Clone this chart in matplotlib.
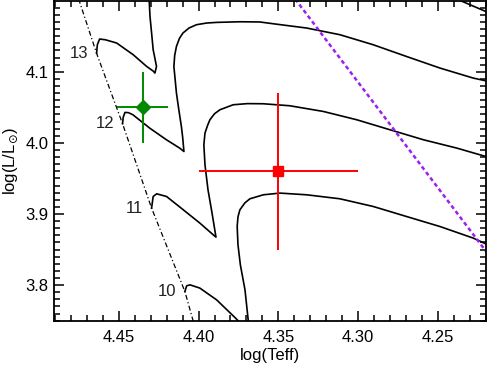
import matplotlib
matplotlib.use("Agg")
import matplotlib.pyplot as plt
from matplotlib.ticker import MultipleLocator, FormatStrFormatter

plt.rcParams['font.family'] = ['Liberation Sans', 'DejaVu Sans']

# ---------------- data ----------------
# evolutionary tracks (log Teff, log L/Lsun)
track13_logT = [4.464, 4.4635, 4.4621, 4.4585, 4.4514, 4.4410, 4.4326, 4.4285, 4.4274,
                4.4264, 4.4285, 4.4295, 4.4305, 4.4310, 4.4300, 4.4200, 4.3900, 4.3300,
                4.2800, 4.2500, 4.2371, 4.2199, 4.2100]
track13_logL = [4.126, 4.138, 4.146, 4.145, 4.1404, 4.1239, 4.1075, 4.1010, 4.0982,
                4.1075, 4.1310, 4.1549, 4.1780, 4.2013, 4.2350, 4.2600, 4.2700, 4.2600,
                4.2400, 4.2160, 4.2013, 4.1848, 4.1750]

track12_logT = [4.4477, 4.4473, 4.4462, 4.4440, 4.4412, 4.4307, 4.4202, 4.4119, 4.4092,
                4.4100, 4.4108, 4.4125, 4.4139, 4.4155, 4.4150, 4.4139, 4.4120, 4.4098,
                4.4060, 4.4014, 4.3950, 4.3887, 4.3741, 4.3616, 4.3532, 4.3323, 4.3114,
                4.2905, 4.2696, 4.2486, 4.2277, 4.2199, 4.2100]
track12_logL = [4.0269, 4.0360, 4.0428, 4.0425, 4.0395, 4.0208, 4.0044, 3.9927, 3.9879,
                4.0080, 4.0231, 4.0480, 4.0700, 4.1075, 4.1230, 4.1356, 4.1470, 4.1545,
                4.1615, 4.1661, 4.1685, 4.1694, 4.1703, 4.1700, 4.1675, 4.1615, 4.1521,
                4.1380, 4.1215, 4.1052, 4.0911, 4.0873, 4.0780]

track11_logT = [4.4295, 4.4285, 4.4263, 4.4201, 4.4096, 4.3992, 4.3908, 4.3891,
                4.3916, 4.3941, 4.3960, 4.3967, 4.3960, 4.3943, 4.3929, 4.3900, 4.3866,
                4.3783, 4.3694, 4.3594, 4.3428, 4.3218, 4.3008, 4.2799, 4.2590, 4.2381,
                4.2199, 4.2100]
track11_logL = [3.9083, 3.9246, 3.9284, 3.9246, 3.9059, 3.8872, 3.8707, 3.8675,
                3.9017, 3.9340, 3.9692, 3.9973, 4.0138, 4.0250, 4.0325, 4.0410, 4.0466,
                4.0536, 4.0552, 4.0550, 4.0522, 4.0442, 4.0325, 4.0184, 4.0044, 3.9927,
                3.9809, 3.9740]

track10_logT = [4.4086, 4.4075, 4.4054, 4.3992, 4.3887, 4.3770, 4.3700,
                4.3665, 4.3689, 4.3709, 4.3738, 4.3753, 4.3758, 4.3753, 4.3741, 4.3709,
                4.3678, 4.3594, 4.3490, 4.3322, 4.3114, 4.2905, 4.2696, 4.2486, 4.2277,
                4.2199, 4.2100]
track10_logL = [3.7910, 3.7990, 3.8004, 3.7958, 3.7793, 3.7540, 3.7380,
                3.7301, 3.7512, 3.7934, 3.8285, 3.8567, 3.8824, 3.8960, 3.9059, 3.9158,
                3.9214, 3.9270, 3.9294, 3.9270, 3.9214, 3.9106, 3.8965, 3.8824, 3.8661,
                3.8581, 3.8470]

track_masses = ['13', '12', '11', '10']

# ZAMS (dash-dot)
zams_logT = [4.480, 4.4751, 4.4640, 4.4477, 4.4295, 4.4086, 4.4036, 4.400]
zams_logL = [4.215, 4.2013, 4.1260, 4.0269, 3.9083, 3.7910, 3.7512, 3.740]

# purple dashed line
strip_logT = [4.3400, 4.2202, 4.2100]
strip_logL = [4.2040, 3.8490, 3.8200]

# observed stars
star1_logT, star1_logL = 4.435, 4.05
star1_eT, star1_eL = 0.016, 0.05
star2_logT, star2_logL = 4.35, 3.96
star2_eT, star2_eL = 0.05, 0.11

# ---------------- figure ----------------
fig = plt.figure(figsize=(4.87, 3.66), dpi=100)
ax = fig.add_axes([0.1109, 0.1238, 0.8871, 0.8735])

for lt, ll in [(track13_logT, track13_logL), (track12_logT, track12_logL),
               (track11_logT, track11_logL), (track10_logT, track10_logL)]:
    ax.plot(lt, ll, color='black', lw=1.2, solid_joinstyle='round')

ax.plot(zams_logT, zams_logL, color='black', lw=0.9, linestyle=(0, (4, 2, 1, 2)))
ax.plot(strip_logT, strip_logL, color='#9b20f0', lw=1.8, linestyle=(0, (1.6, 1.2)))

ax.errorbar(star1_logT, star1_logL, xerr=star1_eT, yerr=star1_eL, fmt='D',
            color='#008800', ms=7.5, elinewidth=1.4, capsize=0, zorder=5)
ax.errorbar(star2_logT, star2_logL, xerr=star2_eT, yerr=star2_eL, fmt='s',
            color='#ff0000', ms=6.5, elinewidth=1.4, capsize=0, zorder=5)

# track labels placed left of each track start
starts = [(track13_logT[0], track13_logL[0]), (track12_logT[0], track12_logL[0]),
          (track11_logT[0], track11_logL[0]), (track10_logT[0], track10_logL[0])]
for m, (t, l) in zip(track_masses, starts):
    ax.annotate(m, (t, l), xytext=(-6, 0), textcoords='offset points',
                ha='right', va='center', fontsize=12, color='#222222')

ax.set_xlim(4.4907, 4.2197)
ax.set_ylim(3.75, 4.1995)
ax.xaxis.set_major_locator(MultipleLocator(0.05))
ax.xaxis.set_minor_locator(MultipleLocator(0.01))
ax.yaxis.set_major_locator(MultipleLocator(0.1))
ax.yaxis.set_minor_locator(MultipleLocator(0.01))
ax.xaxis.set_major_formatter(FormatStrFormatter('%.2f'))
ax.yaxis.set_major_formatter(FormatStrFormatter('%.1f'))

ax.tick_params(which='both', direction='in', top=True, right=True, width=1.1,
               labelsize=12)
ax.tick_params(which='major', length=7.5)
ax.tick_params(which='minor', length=4)
ax.tick_params(axis='x', pad=7)
ax.tick_params(axis='y', pad=4)
for s in ax.spines.values():
    s.set_linewidth(1.3)

ax.set_xlabel('log(Teff)', fontsize=12, labelpad=2)
ax.set_ylabel(r'log(L/L$_{\odot}$)', fontsize=12, labelpad=4)

fig.savefig('out.png', dpi=100)
